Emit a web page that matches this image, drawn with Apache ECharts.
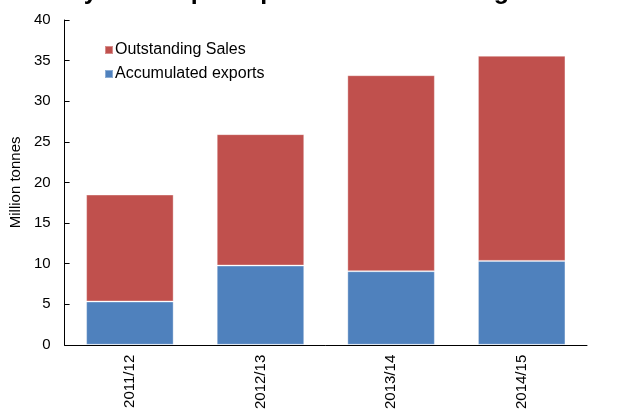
<!DOCTYPE html>
<html><head><meta charset="utf-8">
<script src="https://cdn.jsdelivr.net/npm/echarts@6/dist/echarts.min.js"></script>
<style>html,body{margin:0;padding:0;background:#fff}#c{width:633px;height:412px}</style>
</head><body><div id="c"></div>
<script>
const categories = ['2011/12', '2012/13', '2013/14', '2014/15'];
const accumulatedExports = [5.33, 9.76, 9.06, 10.33];
const outstandingSales = [13.17, 16.18, 24.14, 25.27];
const yTicks = { min: 0, max: 40, interval: 5 };

const chart = echarts.init(document.getElementById('c'), null, { renderer: 'canvas' });
const font = 'Arial, "Liberation Sans", sans-serif';
chart.setOption({
  animation: false,
  backgroundColor: '#fff',
  title: {
    text: 'US soybean exports pace vs. outstanding sales',
    left: 8, top: -25,
    textStyle: { fontFamily: font, fontSize: 25, fontWeight: 'bold', color: '#000' }
  },
  legend: {
    orient: 'vertical', left: 99, top: 37,
    itemWidth: 8, itemHeight: 8, itemGap: 8,
    icon: 'rect',
    data: ['Outstanding Sales', 'Accumulated exports'],
    textStyle: { fontFamily: font, fontSize: 16, color: '#000', padding: [0, 0, 0, -3] }
  },
  grid: { left: 61, right: 46, top: 20, bottom: 64 },
  xAxis: {
    type: 'category', data: categories,
    axisLine: { lineStyle: { color: '#000', width: 1 } },
    axisTick: { inside: true, length: 5, lineStyle: { color: '#000' } },
    axisLabel: { rotate: 90, margin: 10, fontFamily: font, fontSize: 15, color: '#000' }
  },
  yAxis: {
    type: 'value', min: yTicks.min, max: yTicks.max, interval: yTicks.interval,
    name: 'Million tonnes', nameLocation: 'middle', nameGap: 34, nameRotate: 90,
    nameTextStyle: { fontFamily: font, fontSize: 15, color: '#000' },
    axisLine: { show: true, lineStyle: { color: '#000', width: 1 } },
    axisTick: { show: true, inside: true, length: 5, lineStyle: { color: '#000' } },
    axisLabel: { margin: 14, fontFamily: font, fontSize: 15, color: '#000' },
    splitLine: { show: false }
  },
  series: [
    { name: 'Accumulated exports', type: 'bar', stack: 'a', data: accumulatedExports,
      barCategoryGap: '33%',
      itemStyle: { color: '#4F81BD', borderColor: 'rgba(255,255,255,0.35)', borderWidth: 1 } },
    { name: 'Outstanding Sales', type: 'bar', stack: 'a', data: outstandingSales,
      barCategoryGap: '33%',
      itemStyle: { color: '#C0504D', borderColor: 'rgba(255,255,255,0.35)', borderWidth: 1 } }
  ]
});
</script></body></html>
